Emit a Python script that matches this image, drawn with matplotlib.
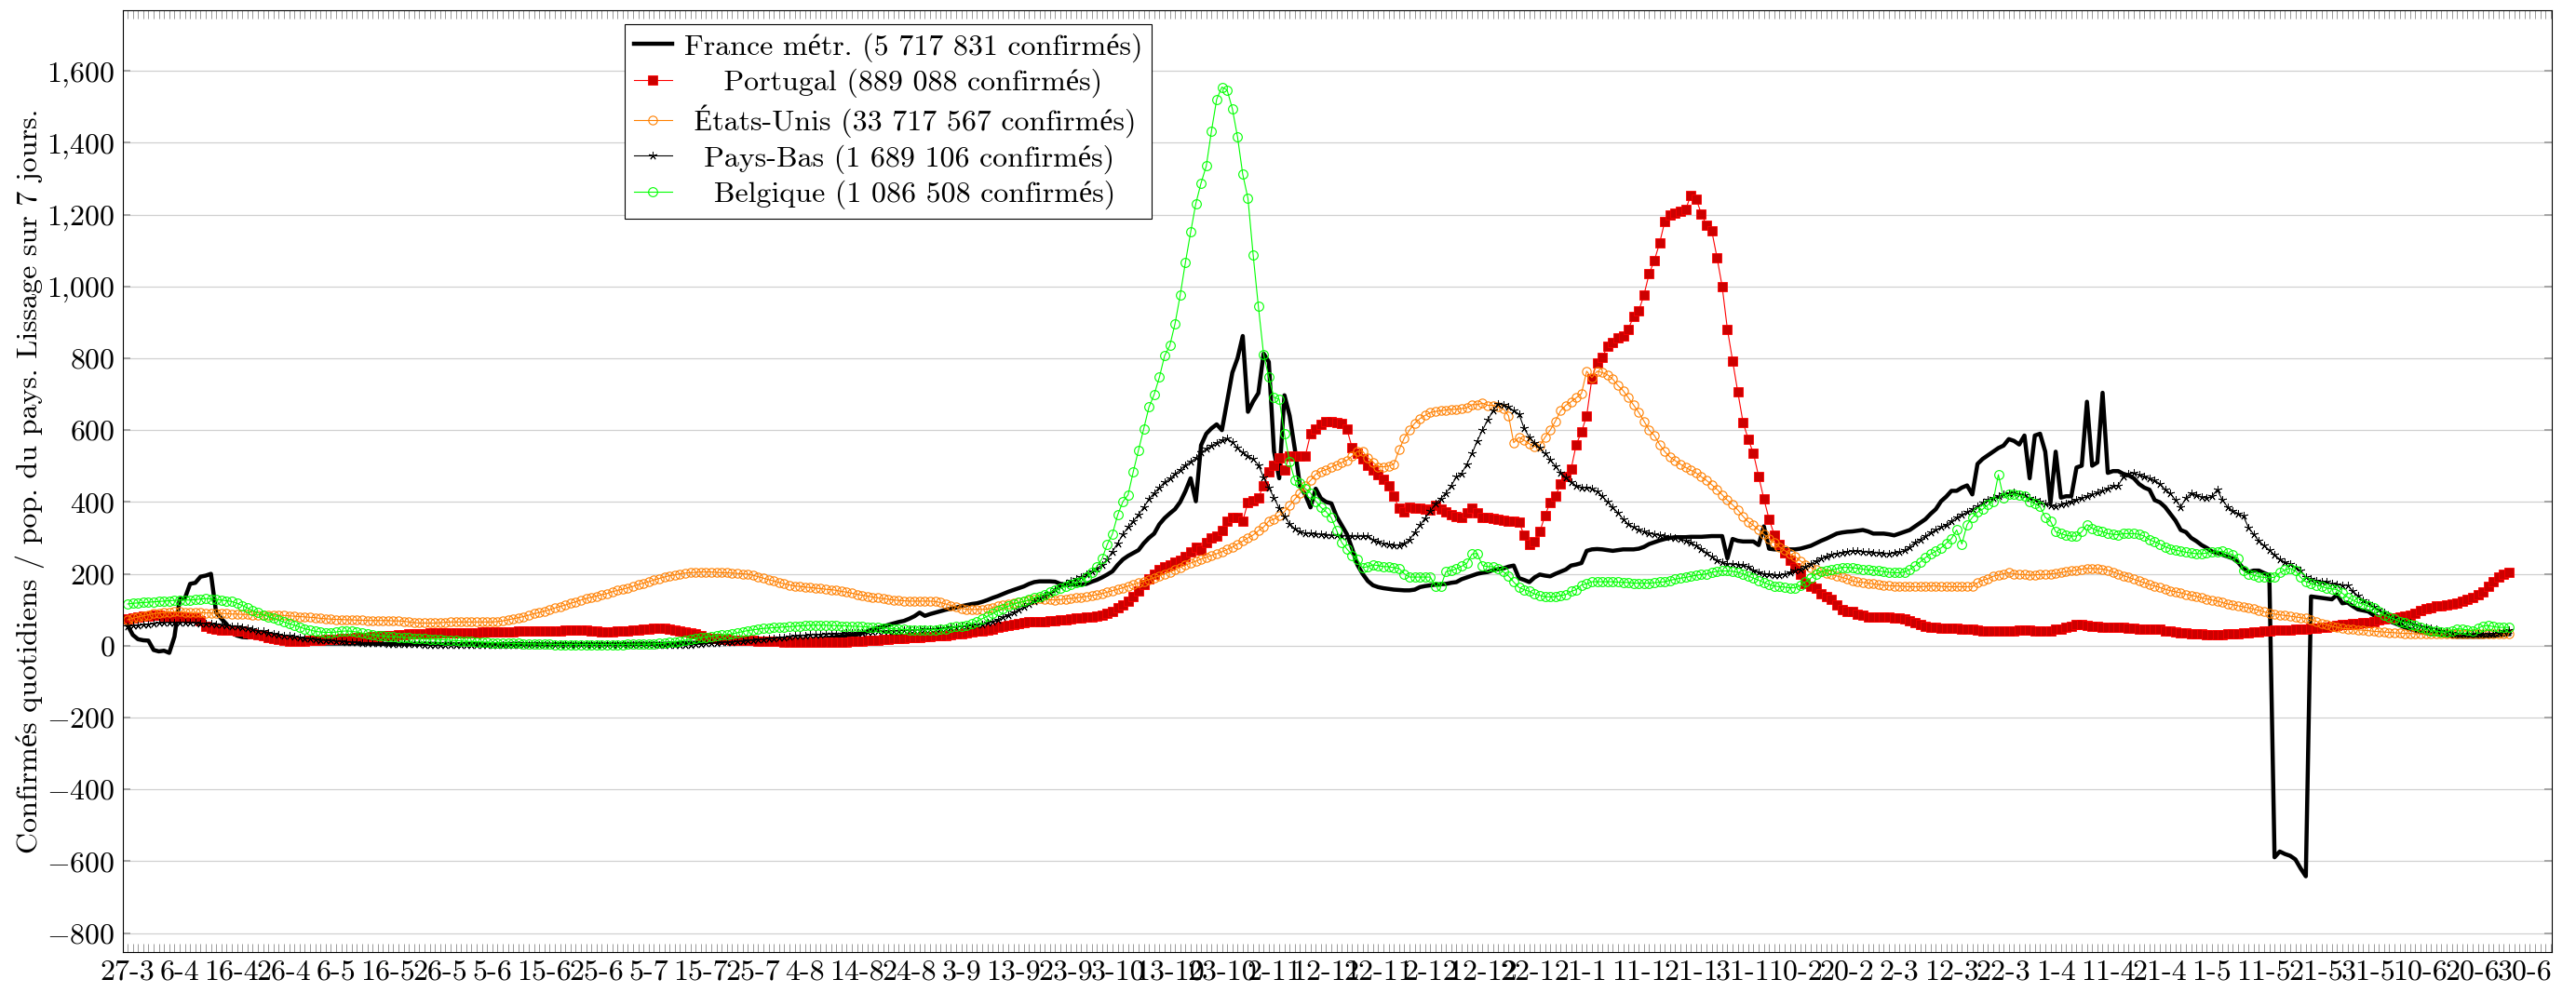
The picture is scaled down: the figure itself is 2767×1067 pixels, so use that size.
import numpy as np
import matplotlib
matplotlib.use("Agg")
import matplotlib.pyplot as plt

plt.rcParams['font.family'] = ['cmr10', 'Liberation Serif']
plt.rcParams['mathtext.fontset'] = 'cm'
plt.rcParams['axes.unicode_minus'] = False

# one tick label every 10 days, starting 27-3-2020
tick_labels = ["27-3", "6-4", "16-4", "26-4", "6-5", "16-5", "26-5", "5-6", "15-6", "25-6",
               "5-7", "15-7", "25-7", "4-8", "14-8", "24-8", "3-9", "13-9", "23-9", "3-10",
               "13-10", "23-10", "2-11", "12-11", "22-11", "2-12", "12-12", "22-12", "1-1", "11-1",
               "21-1", "31-1", "10-2", "20-2", "2-3", "12-3", "22-3", "1-4", "11-4", "21-4",
               "1-5", "11-5", "21-5", "31-5", "10-6", "20-6", "30-6"]
y_ticks = [-800, -600, -400, -200, 0, 200, 400, 600, 800, 1000, 1200, 1400, 1600]
y_tick_labels = [r"$-800$", r"$-600$", r"$-400$", r"$-200$", r"$0$", r"$200$", r"$400$",
                 r"$600$", r"$800$", r"$1{,}000$", r"$1{,}200$", r"$1{,}400$", r"$1{,}600$"]

# daily values (7-day smoothing), one row = 10 days
france = [
    57, 30, 18, 15, 14, -12, -16, -14, -20, 25,
    130, 132, 172, 175, 192, 195, 200, 92, 75, 60,
    35, 28, 24, 23, 24, 23, 20, 18, 18, 16,
    12, 10, 10, 9, 8, 8, 7, 7, 6, 6,
    6, 6, 6, 6, 6, 6, 6, 6, 5, 5,
    5, 5, 5, 5, 5, 5, 5, 5, 5, 5,
    4, 5, 5, 4, 4, 5, 5, 4, 4, 5,
    4, 4, 4, 4, 5, 5, 4, 4, 4, 4,
    4, 3, 4, 4, 4, 4, 3, 4, 4, 4,
    4, 4, 4, 4, 4, 4, 4, 5, 5, 5,
    5, 5, 5, 5, 6, 6, 7, 7, 8, 8,
    9, 10, 10, 11, 11, 12, 12, 12, 13, 13,
    14, 14, 15, 15, 16, 16, 17, 17, 18, 18,
    18, 18, 19, 20, 21, 22, 24, 26, 27, 29,
    31, 35, 40, 45, 50, 53, 58, 62, 66, 69,
    75, 82, 92, 83, 88, 92, 96, 100, 103, 106,
    110, 113, 116, 118, 122, 127, 133, 138, 144, 150,
    155, 160, 165, 172, 177, 179, 179, 179, 178, 172,
    170, 170, 170, 170, 172, 178, 183, 190, 198, 207,
    225, 240, 250, 258, 266, 285, 300, 312, 338, 355,
    368, 380, 400, 430, 466, 402, 558, 590, 605, 616,
    600, 680, 760, 800, 862, 651, 680, 703, 813, 790,
    541, 466, 697, 640, 547, 443, 420, 385, 437, 410,
    400, 396, 360, 335, 310, 270, 225, 200, 180, 168,
    163, 160, 158, 156, 155, 154, 154, 156, 163, 166,
    168, 170, 171, 172, 175, 177, 185, 190, 195, 200,
    203, 205, 210, 213, 215, 220, 223, 188, 183, 177,
    190, 198, 195, 193, 200, 206, 212, 223, 226, 230,
    264, 268, 269, 268, 266, 264, 266, 268, 268, 268,
    270, 275, 283, 288, 293, 297, 300, 302, 302, 302,
    303, 303, 303, 304, 305, 305, 305, 243, 297, 292,
    290, 290, 290, 280, 332, 270, 268, 268, 268, 268,
    268, 270, 274, 278, 285, 292, 298, 305, 312, 315,
    317, 318, 320, 322, 318, 312, 312, 312, 310, 307,
    312, 317, 322, 332, 342, 352, 367, 380, 402, 415,
    431, 431, 440, 446, 421, 506, 520, 530, 540, 550,
    557, 575, 570, 560, 585, 466, 585, 590, 540, 397,
    540, 412, 416, 416, 496, 501, 679, 501, 510, 704,
    481, 486, 486, 478, 474, 466, 450, 440, 434, 405,
    399, 386, 367, 348, 322, 316, 300, 291, 280, 272,
    262, 258, 253, 248, 243, 232, 215, 205, 209, 209,
    202, 196, -589, -573, -580, -585, -595, -620, -642, 137,
    135, 133, 131, 129, 142, 118, 120, 110, 101, 98,
    95, 85, 80, 76, 68, 63, 57, 51, 46, 42,
    38, 35, 33, 32, 30, 28, 26, 25, 25, 25,
    25, 25, 25, 26, 27, 29, 30, 32,
]

portugal = [
    75, 78, 80, 82, 83, 84, 84, 83, 82, 81,
    80, 79, 78, 76, 70, 55, 48, 45, 44, 44,
    44, 42, 40, 37, 34, 30, 27, 24, 20, 18,
    15, 13, 12, 12, 13, 14, 15, 16, 17, 18,
    18, 19, 20, 21, 22, 23, 24, 25, 26, 27,
    28, 29, 30, 31, 32, 33, 34, 34, 35, 35,
    36, 36, 36, 36, 37, 37, 37, 37, 38, 38,
    38, 38, 39, 39, 39, 40, 40, 40, 40, 40,
    40, 40, 41, 42, 43, 44, 44, 44, 43, 42,
    40, 38, 38, 39, 40, 41, 42, 43, 44, 46,
    47, 48, 49, 48, 46, 44, 42, 39, 36, 32,
    28, 24, 21, 19, 18, 17, 16, 15, 15, 14,
    14, 13, 13, 12, 12, 12, 11, 11, 11, 11,
    10, 10, 10, 10, 10, 10, 11, 11, 11, 12,
    12, 13, 14, 15, 16, 17, 18, 19, 20, 21,
    22, 23, 24, 25, 26, 27, 28, 29, 30, 32,
    34, 36, 38, 40, 42, 44, 47, 50, 53, 56,
    59, 62, 65, 66, 66, 67, 68, 69, 70, 71,
    73, 75, 77, 78, 79, 80, 82, 84, 90, 96,
    105, 114, 123, 136, 153, 170, 187, 200, 213, 220,
    226, 232, 238, 248, 261, 274, 265, 287, 300, 304,
    321, 347, 356, 358, 347, 399, 403, 412, 446, 485,
    503, 524, 490, 528, 528, 528, 528, 589, 602, 615,
    624, 624, 622, 619, 602, 550, 537, 520, 503, 490,
    477, 464, 446, 416, 382, 373, 386, 382, 382, 380,
    377, 390, 380, 373, 365, 360, 356, 369, 382, 369,
    356, 357, 355, 352, 350, 347, 346, 345, 307, 283,
    290, 317, 362, 399, 416, 451, 470, 491, 560, 595,
    640, 744, 788, 803, 833, 843, 858, 863, 881, 917,
    932, 977, 1036, 1073, 1121, 1182, 1200, 1205, 1210, 1215,
    1254, 1244, 1202, 1170, 1155, 1081, 1000, 881, 793, 706,
    622, 575, 535, 471, 409, 352, 309, 283, 258, 238,
    218, 198, 174, 165, 159, 144, 137, 129, 114, 101,
    94, 94, 87, 84, 81, 80, 79, 79, 79, 77,
    76, 74, 70, 64, 60, 55, 52, 50, 48, 48,
    48, 48, 47, 46, 45, 44, 42, 42, 42, 42,
    42, 42, 42, 43, 44, 43, 42, 40, 41, 42,
    45, 47, 52, 55, 58, 58, 57, 55, 53, 52,
    51, 50, 50, 50, 49, 48, 47, 47, 46, 45,
    45, 42, 40, 38, 36, 35, 34, 33, 32, 31,
    31, 31, 31, 32, 33, 34, 35, 36, 38, 39,
    40, 42, 43, 43, 44, 44, 45, 46, 47, 48,
    49, 50, 51, 53, 56, 59, 60, 61, 62, 63,
    65, 68, 72, 74, 76, 78, 80, 82, 86, 90,
    97, 102, 106, 110, 112, 114, 116, 118, 124, 130,
    135, 142, 150, 165, 178, 190, 200, 203,
]

etats_unis = [
    72, 76, 80, 83, 86, 89, 91, 92, 93, 94,
    94, 93, 92, 92, 92, 91, 91, 90, 90, 89,
    88, 88, 87, 87, 86, 86, 86, 85, 85, 85,
    84, 83, 82, 81, 80, 79, 78, 76, 75, 74,
    73, 73, 72, 72, 71, 71, 70, 70, 70, 70,
    70, 69, 69, 68, 66, 64, 63, 63, 63, 63,
    64, 65, 66, 66, 66, 66, 66, 66, 66, 66,
    66, 67, 69, 72, 75, 78, 81, 85, 89, 92,
    96, 100, 105, 109, 113, 118, 122, 127, 131, 135,
    138, 142, 145, 150, 154, 157, 161, 165, 170, 174,
    178, 183, 187, 191, 195, 197, 200, 202, 203, 204,
    205, 205, 205, 204, 203, 203, 202, 201, 200, 199,
    196, 192, 188, 184, 180, 176, 172, 169, 166, 165,
    163, 162, 160, 159, 157, 156, 154, 151, 149, 146,
    143, 140, 138, 135, 133, 131, 129, 127, 126, 125,
    124, 124, 124, 124, 124, 123, 120, 116, 112, 108,
    104, 101, 101, 101, 101, 102, 106, 110, 113, 116,
    118, 120, 123, 126, 130, 131, 129, 128, 127, 128,
    130, 131, 133, 135, 137, 139, 142, 145, 149, 153,
    157, 161, 166, 170, 175, 179, 184, 189, 194, 200,
    205, 211, 218, 224, 230, 235, 241, 246, 251, 256,
    261, 268, 274, 283, 291, 300, 308, 320, 330, 347,
    352, 362, 373, 390, 408, 425, 445, 460, 477, 485,
    490, 497, 503, 510, 516, 528, 541, 541, 524, 511,
    498, 498, 500, 505, 545, 578, 600, 619, 632, 641,
    649, 652, 654, 656, 658, 658, 660, 662, 671, 671,
    675, 669, 669, 665, 659, 640, 565, 580, 572, 562,
    555, 557, 580, 600, 625, 654, 669, 679, 690, 702,
    764, 746, 764, 760, 754, 742, 724, 710, 690, 670,
    649, 625, 600, 585, 560, 540, 525, 515, 505, 496,
    488, 481, 470, 460, 448, 435, 420, 405, 392, 378,
    360, 345, 335, 322, 310, 298, 287, 275, 265, 255,
    248, 236, 226, 218, 211, 206, 202, 198, 194, 190,
    186, 180, 177, 176, 174, 172, 170, 168, 167, 166,
    166, 165, 164, 164, 164, 165, 166, 166, 165, 164,
    164, 164, 164, 164, 164, 175, 182, 186, 193, 197,
    200, 203, 200, 198, 198, 196, 197, 198, 198, 200,
    201, 203, 206, 208, 210, 213, 215, 215, 214, 213,
    210, 205, 200, 195, 190, 185, 180, 175, 170, 166,
    162, 157, 153, 150, 147, 143, 140, 137, 133, 130,
    127, 124, 120, 116, 114, 111, 108, 105, 102, 98,
    94, 90, 88, 86, 84, 82, 80, 78, 76, 72,
    68, 62, 58, 54, 51, 48, 47, 46, 44, 43,
    42, 40, 39, 38, 37, 36, 35, 34, 34, 33,
    33, 32, 32, 32, 32, 32, 32, 32, 32, 32,
    32, 32, 32, 32, 32, 33, 33, 34,
]

pays_bas = [
    55, 56, 57, 58, 60, 62, 63, 64, 65, 65,
    65, 65, 64, 63, 62, 62, 61, 60, 58, 56,
    55, 53, 51, 48, 45, 42, 40, 37, 34, 31,
    29, 27, 25, 23, 21, 19, 18, 16, 15, 14,
    13, 12, 11, 10, 9, 8, 8, 7, 6, 6,
    5, 5, 5, 4, 4, 4, 4, 3, 3, 3,
    3, 3, 3, 3, 3, 2, 2, 2, 2, 2,
    2, 2, 2, 2, 2, 2, 2, 2, 2, 2,
    2, 2, 2, 2, 2, 2, 2, 2, 2, 2,
    2, 2, 2, 2, 2, 2, 2, 2, 2, 2,
    2, 2, 2, 2, 2, 2, 3, 3, 3, 4,
    5, 6, 7, 8, 9, 10, 11, 12, 13, 14,
    16, 17, 18, 20, 21, 22, 24, 25, 27, 28,
    29, 30, 31, 31, 32, 32, 33, 34, 35, 35,
    36, 37, 38, 39, 40, 40, 41, 42, 42, 43,
    43, 44, 44, 45, 46, 47, 48, 49, 50, 52,
    53, 55, 57, 58, 60, 63, 67, 73, 80, 86,
    93, 100, 108, 116, 124, 132, 140, 148, 158, 166,
    173, 180, 185, 192, 200, 207, 215, 225, 240, 262,
    285, 310, 330, 347, 365, 385, 408, 425, 440, 455,
    465, 478, 490, 503, 512, 522, 538, 548, 557, 565,
    572, 576, 567, 550, 538, 528, 520, 503, 468, 440,
    412, 382, 360, 339, 326, 317, 313, 312, 311, 310,
    308, 307, 307, 306, 306, 305, 304, 305, 305, 295,
    290, 284, 281, 280, 280, 285, 295, 315, 335, 355,
    375, 395, 410, 425, 445, 470, 480, 505, 535, 570,
    600, 628, 654, 674, 670, 664, 654, 645, 605, 580,
    565, 550, 535, 518, 500, 481, 468, 456, 445, 441,
    441, 436, 430, 416, 400, 385, 370, 352, 338, 330,
    322, 318, 313, 310, 307, 305, 302, 300, 297, 292,
    288, 278, 270, 258, 248, 238, 232, 228, 227, 226,
    224, 220, 210, 205, 200, 198, 196, 197, 198, 205,
    208, 213, 220, 228, 236, 243, 248, 253, 256, 258,
    262, 263, 263, 262, 260, 259, 258, 257, 256, 258,
    260, 265, 275, 288, 296, 305, 315, 322, 330, 337,
    347, 357, 365, 372, 380, 387, 398, 407, 412, 416,
    421, 424, 426, 422, 418, 412, 407, 400, 395, 390,
    387, 392, 397, 402, 407, 411, 416, 421, 426, 431,
    438, 444, 446, 471, 478, 481, 476, 472, 466, 460,
    451, 435, 424, 405, 386, 411, 425, 420, 414, 411,
    416, 434, 405, 386, 376, 368, 361, 329, 310, 291,
    279, 266, 253, 241, 232, 228, 218, 209, 190, 186,
    182, 178, 177, 173, 170, 168, 168, 152, 139, 127,
    118, 108, 100, 92, 82, 76, 70, 66, 63, 60,
    54, 51, 49, 47, 42, 38, 35, 34, 34, 33,
    32, 32, 32, 33, 34, 35, 40, 44,
]

belgique = [
    116, 118, 119, 120, 121, 122, 123, 124, 125, 126,
    127, 127, 127, 128, 130, 131, 130, 128, 127, 125,
    123, 118, 112, 105, 98, 92, 86, 81, 76, 71,
    66, 61, 57, 52, 47, 44, 40, 38, 37, 37,
    38, 40, 41, 40, 38, 35, 32, 30, 28, 27,
    25, 25, 24, 23, 22, 21, 20, 19, 18, 18,
    17, 16, 15, 14, 13, 12, 12, 11, 10, 9,
    8, 8, 7, 7, 6, 6, 5, 5, 5, 4,
    4, 4, 3, 3, 3, 3, 3, 3, 3, 3,
    3, 3, 3, 3, 3, 3, 4, 4, 4, 4,
    4, 5, 6, 7, 9, 11, 13, 15, 18, 20,
    22, 24, 26, 28, 30, 31, 33, 36, 39, 42,
    44, 46, 48, 49, 50, 51, 52, 53, 54, 55,
    56, 57, 57, 57, 57, 56, 56, 55, 55, 54,
    54, 53, 52, 51, 50, 49, 48, 47, 46, 45,
    44, 44, 44, 44, 44, 44, 45, 47, 50, 53,
    55, 57, 62, 68, 75, 82, 89, 97, 104, 110,
    115, 120, 123, 128, 133, 138, 143, 149, 155, 160,
    165, 170, 175, 179, 190, 205, 220, 242, 282, 311,
    364, 401, 420, 485, 544, 604, 664, 699, 747, 807,
    835, 896, 976, 1067, 1151, 1231, 1288, 1335, 1433, 1521,
    1555, 1547, 1495, 1416, 1312, 1245, 1087, 944, 811, 747,
    691, 686, 590, 512, 460, 454, 437, 425, 402, 385,
    373, 356, 321, 287, 269, 252, 240, 217, 220, 225,
    223, 220, 220, 217, 215, 200, 191, 191, 191, 191,
    191, 165, 165, 206, 209, 214, 221, 229, 255, 257,
    223, 220, 220, 214, 206, 194, 177, 162, 156, 151,
    144, 140, 136, 136, 136, 140, 142, 151, 156, 169,
    172, 178, 178, 178, 178, 178, 177, 176, 176, 174,
    174, 174, 174, 175, 177, 178, 182, 185, 188, 190,
    193, 196, 198, 200, 204, 207, 208, 208, 207, 204,
    200, 194, 188, 182, 176, 170, 166, 164, 163, 161,
    161, 168, 178, 188, 200, 206, 208, 211, 214, 218,
    218, 217, 215, 213, 211, 210, 208, 206, 204, 203,
    203, 205, 212, 222, 233, 245, 255, 263, 272, 285,
    298, 322, 283, 337, 357, 372, 380, 392, 402, 476,
    411, 421, 421, 418, 416, 402, 395, 387, 357, 347,
    317, 312, 307, 305, 305, 317, 337, 327, 320, 317,
    312, 310, 309, 312, 312, 312, 310, 305, 295, 289,
    283, 275, 270, 266, 263, 260, 258, 256, 256, 258,
    260, 262, 263, 258, 253, 243, 209, 200, 196, 192,
    190, 190, 190, 203, 211, 215, 209, 190, 178, 173,
    168, 165, 160, 158, 156, 146, 135, 127, 120, 116,
    110, 105, 95, 85, 80, 74, 68, 64, 60, 56,
    52, 46, 42, 40, 38, 38, 42, 47, 46, 44,
    42, 48, 55, 56, 53, 51, 51, 51,
]

labels = ["France métr. (5 717 831 confirmés)",
          "Portugal (889 088 confirmés)",
          "États-Unis (33 717 567 confirmés)",
          "Pays-Bas (1 689 106 confirmés)",
          "Belgique (1 086 508 confirmés)"]

FS = 23

fig = plt.figure(figsize=(27.67, 10.67), dpi=100)
ax = fig.add_axes([0.0477, 0.0412, 0.9429, 0.9489])

ax.plot(np.arange(len(france)), france, color='black', lw=3.2, label=labels[0])
ax.plot(np.arange(len(portugal)), portugal, color='red', lw=0.8, marker='s', ms=6.8,
        mfc='#cc0000', mec='red', mew=0.6, label=labels[1])
ax.plot(np.arange(len(etats_unis)), etats_unis, color='#ff8000', lw=0.8, marker='o', ms=6.7,
        mfc='none', mec='#ff8000', mew=0.8, label=labels[2])
ax.plot(np.arange(len(pays_bas)), pays_bas, color='black', lw=0.8, marker=(5, 2, 0), ms=6.5,
        mec='black', mew=0.6, label=labels[3])
ax.plot(np.arange(len(belgique)), belgique, color='#00ff00', lw=0.8, marker='o', ms=7.0,
        mfc='none', mec='#00ff00', mew=0.8, label=labels[4])

ax.set_xlim(-0.9, 465.2)
ax.set_ylim(-853, 1770)

ax.set_xticks(np.arange(0, 10 * len(tick_labels), 10))
ax.set_xticklabels(tick_labels, fontsize=FS)
ax.set_xticks(np.arange(0, 466), minor=True)
ax.set_yticks(y_ticks)
ax.set_yticklabels(y_tick_labels, fontsize=FS)

ax.tick_params(axis='x', which='both', direction='in', top=True, bottom=True,
               length=6.5, width=0.7, color='#999999', pad=6)
ax.tick_params(axis='y', which='major', direction='in', left=True, right=True,
               length=6, width=1.2, color='#999999', pad=6)
ax.yaxis.grid(True, color='#d0d0d0', lw=0.9)
ax.set_axisbelow(True)
for s in ax.spines.values():
    s.set_linewidth(0.8)
    s.set_color('black')

ax.set_ylabel("Confirmés quotidiens / pop. du pays. Lissage sur 7 jours.", fontsize=FS)
ax.yaxis.set_label_coords(-0.0323, 0.5)

leg = ax.legend(loc='upper left', bbox_to_anchor=(0.2066, 0.985), borderaxespad=0,
                fontsize=FS, fancybox=False, framealpha=1, edgecolor='black',
                handlelength=1.3, handletextpad=0.4, labelspacing=0.22, borderpad=0.3)
leg.get_frame().set_linewidth(0.8)

# centre the legend texts like the original
fig.canvas.draw()
renderer = fig.canvas.get_renderer()
probe1 = ax.text(0, 0, "aa", fontsize=FS)
probe2 = ax.text(0, 0, "a a", fontsize=FS)
space_w = (probe2.get_window_extent(renderer).width - probe1.get_window_extent(renderer).width)
probe1.remove()
probe2.remove()
texts = leg.get_texts()
widths = [t.get_window_extent(renderer).width for t in texts]
wmax = max(widths)
for t, w in zip(texts, widths):
    n = int(round((wmax - w) / 2 / space_w))
    if n > 0:
        t.set_text(" " * n + t.get_text())

fig.savefig("out.png", dpi=100)
